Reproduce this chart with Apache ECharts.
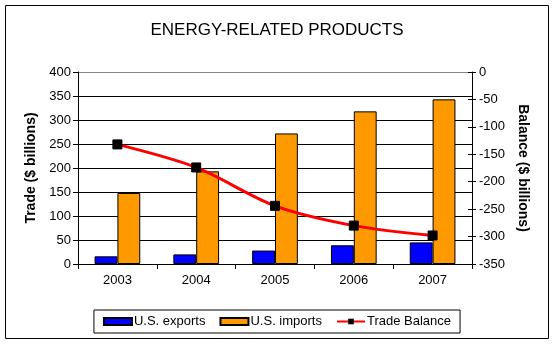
<!DOCTYPE html>
<html>
<head>
<meta charset="utf-8">
<script src="https://cdn.jsdelivr.net/npm/echarts@6/dist/echarts.min.js"></script>
<style>
  html, body { margin: 0; padding: 0; background: #fff; }
  #chart { width: 554px; height: 345px; }
</style>
</head>
<body>
<div id="chart"></div>
<script>
// Energy-related products: U.S. trade, 2003-2007 ($ billions)
const years = ['2003', '2004', '2005', '2006', '2007'];
const usExports = [16, 20, 28, 39, 45];
const usImports = [148, 193, 272, 318, 343];
const tradeBalance = [-132, -174, -244, -280, -298];

const FONT = '"Liberation Sans", Arial, sans-serif';

const chart = echarts.init(document.getElementById('chart'), null, { renderer: 'canvas' });

// gridlines are black, except the top one, which is grey
const gridColors = ['#000', '#000', '#000', '#000', '#000', '#000', '#000', '#000', '#888'];

chart.setOption({
  animation: false,
  backgroundColor: '#ffffff',
  textStyle: { fontFamily: FONT, color: '#000' },
  title: {
    text: 'ENERGY-RELATED PRODUCTS',
    left: 'center',
    top: 17,
    textStyle: { fontFamily: FONT, fontSize: 17, fontWeight: 'normal', color: '#000' }
  },
  graphic: [{
    type: 'rect',
    shape: { x: 5.5, y: 5.5, width: 543, height: 333 },
    style: { fill: 'none', stroke: '#000', lineWidth: 1 },
    z: -1
  }],
  legend: {
    bottom: 12,
    left: 'center',
    itemGap: 14,
    itemWidth: 28,
    itemHeight: 7,
    padding: [5, 9, 5, 9],
    borderColor: '#000',
    borderWidth: 1,
    borderRadius: 0,
    textStyle: { fontFamily: FONT, fontSize: 13, color: '#000', padding: [0, 0, 0, -3] },
    data: [
      { name: 'U.S. exports', icon: 'rect' },
      { name: 'U.S. imports', icon: 'rect' },
      { name: 'Trade Balance' }
    ]
  },
  grid: { left: 78, right: 82, top: 72, bottom: 81 },
  xAxis: {
    type: 'category',
    data: years,
    axisLine: { lineStyle: { color: '#000', width: 1 } },
    axisTick: { show: true, length: 5, lineStyle: { color: '#000' } },
    axisLabel: { fontFamily: FONT, fontSize: 13, color: '#000', margin: 10 }
  },
  yAxis: [
    {
      type: 'value',
      min: 0, max: 400, interval: 50,
      position: 'left',
      name: 'Trade ($ billions)',
      nameLocation: 'middle',
      nameGap: 39,
      nameTextStyle: { fontFamily: FONT, fontSize: 14, fontWeight: 'bold', color: '#000' },
      axisLine: { show: true, lineStyle: { color: '#000' } },
      axisTick: { show: true, length: 5, lineStyle: { color: '#000' } },
      axisLabel: { fontFamily: FONT, fontSize: 13, color: '#000', margin: 7 },
      splitLine: { show: true, lineStyle: { color: gridColors, width: 1 } }
    },
    {
      type: 'value',
      min: -350, max: 0, interval: 50,
      position: 'right',
      name: 'Balance ($ billions)',
      nameLocation: 'middle',
      nameGap: 44,
      nameRotate: -90,
      nameTextStyle: { fontFamily: FONT, fontSize: 14, fontWeight: 'bold', color: '#000' },
      axisLine: { show: true, lineStyle: { color: '#000' } },
      axisTick: { show: true, length: 4, lineStyle: { color: '#000' } },
      axisLabel: { fontFamily: FONT, fontSize: 13, color: '#000', margin: 7 },
      splitLine: { show: false }
    },
    {
      // inner half of the crossing ticks on the balance axis
      type: 'value',
      min: -350, max: 0, interval: 50,
      position: 'right',
      axisLine: { show: false },
      axisTick: { show: true, inside: true, length: 4, lineStyle: { color: '#000' } },
      axisLabel: { show: false },
      splitLine: { show: false }
    }
  ],
  series: [
    {
      name: 'U.S. exports',
      type: 'bar',
      yAxisIndex: 0,
      data: usExports,
      barGap: '0%',
      barCategoryGap: '42%',
      itemStyle: { color: '#0000FF', borderColor: '#000', borderWidth: 1 }
    },
    {
      name: 'U.S. imports',
      type: 'bar',
      yAxisIndex: 0,
      data: usImports,
      barGap: '0%',
      barCategoryGap: '42%',
      itemStyle: { color: '#FF9900', borderColor: '#000', borderWidth: 1 }
    },
    {
      name: 'Trade Balance',
      type: 'line',
      yAxisIndex: 1,
      data: tradeBalance,
      smooth: 0.3,
      symbol: 'rect',
      symbolSize: 9,
      lineStyle: { color: '#FF0000', width: 3 },
      itemStyle: { color: '#000', borderColor: '#000' },
      z: 5
    }
  ]
});
</script>
</body>
</html>
